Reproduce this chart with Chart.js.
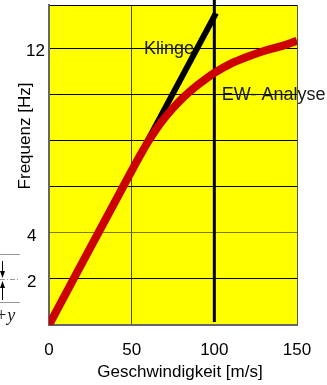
<!DOCTYPE html>
<html>
<head>
<meta charset="utf-8">
<script src="https://cdn.jsdelivr.net/npm/chart.js@4/dist/chart.umd.min.js"></script>
<style>
  html, body { margin: 0; padding: 0; background: #ffffff; }
  #wrap { width: 327px; height: 385px; position: relative; }
</style>
</head>
<body>
<div id="wrap"><canvas id="c"></canvas></div>
<script>
// ---- data ----
const ewSpeeds   = [0, 50, 55, 60, 65, 70, 75, 80, 85, 90, 95, 100, 110, 120, 130, 140, 150];
const ewFreq     = [0, 6.7, 7.35, 7.97, 8.52, 9.0, 9.42, 9.8, 10.13, 10.43, 10.7, 10.95, 11.35, 11.65, 11.9, 12.1, 12.35];
const klingeSpeeds = [0, 101];
const klingeFreq   = [0, 13.55];
const markerSpeed  = [100, 100];
const markerFreq   = [0.13, 14.13];
const xTickValues  = [0, 50, 100, 150];
const yTickLabels  = [2, 4, 12];
const seriesNames  = ['Klinge', 'EW- Analyse'];
const seriesLabelPos = [[57.5, 12], [104.5, 10]];   // [speed, freq] anchor of series name text
const xTitle = 'Geschwindigkeit [m/s]';
const yTitle = 'Frequenz [Hz]';

const toXY = (xs, ys) => xs.map((x, i) => ({ x: x, y: ys[i] }));

const bgPlugin = {
  id: 'bg',
  beforeDraw(chart) {
    const { ctx, chartArea: a } = chart;
    ctx.save();
    ctx.fillStyle = '#ffff00';
    ctx.fillRect(a.left, a.top, a.right - a.left, a.bottom - a.top);
    ctx.restore();
  },
  afterDraw(chart) {
    const { ctx, scales } = chart;
    ctx.save();
    // series names
    ctx.fillStyle = '#1a1a1a';
    ctx.font = '18px "Liberation Sans", Arial, sans-serif';
    ctx.textBaseline = 'middle';
    ctx.textAlign = 'left';
    seriesNames.forEach((n, i) => {
      ctx.fillText(n, scales.x.getPixelForValue(seriesLabelPos[i][0]), scales.y.getPixelForValue(seriesLabelPos[i][1]));
    });
    // axis titles
    ctx.fillStyle = '#000';
    ctx.font = '17px "Liberation Sans", Arial, sans-serif';
    ctx.textAlign = 'center';
    ctx.fillText(xTitle, 180, 372);
    ctx.translate(25, 136);
    ctx.rotate(-Math.PI / 2);
    ctx.fillText(yTitle, 0, 0);
    ctx.restore();

    // cropped fragment of neighbouring figure at left edge
    ctx.save();
    ctx.strokeStyle = '#9a9a9a';
    ctx.lineWidth = 1;
    ctx.beginPath();
    ctx.moveTo(0, 254.5); ctx.lineTo(20, 254.5);
    ctx.moveTo(0, 302.5); ctx.lineTo(20, 302.5);
    ctx.stroke();
    ctx.setLineDash([5, 2, 1, 2]);
    ctx.beginPath();
    ctx.moveTo(0, 279.5); ctx.lineTo(20, 279.5);
    ctx.stroke();
    ctx.setLineDash([]);
    ctx.strokeStyle = '#000';
    ctx.fillStyle = '#000';
    ctx.beginPath();
    ctx.moveTo(2.5, 261); ctx.lineTo(2.5, 272);
    ctx.moveTo(2.5, 286); ctx.lineTo(2.5, 300);
    ctx.stroke();
    ctx.beginPath();
    ctx.moveTo(0, 271); ctx.lineTo(5, 271); ctx.lineTo(2.5, 278); ctx.closePath();
    ctx.moveTo(0, 288); ctx.lineTo(5, 288); ctx.lineTo(2.5, 281); ctx.closePath();
    ctx.fill();
    ctx.fillStyle = '#222';
    ctx.font = 'italic 18px "Liberation Serif", serif';
    ctx.textAlign = 'left';
    ctx.textBaseline = 'middle';
    ctx.fillText('+y', -5, 316);
    ctx.restore();
  }
};

new Chart(document.getElementById('c'), {
  type: 'line',
  data: {
    datasets: [
      {
        label: seriesNames[1],
        data: toXY(ewSpeeds, ewFreq),
        borderColor: '#cc0000',
        borderWidth: 8,
        borderCapStyle: 'butt',
        borderJoinStyle: 'round',
        pointRadius: 0,
        cubicInterpolationMode: 'monotone',
        fill: false
      },
      {
        label: seriesNames[0],
        data: toXY(klingeSpeeds, klingeFreq),
        borderColor: '#000000',
        borderWidth: 6,
        borderCapStyle: 'butt',
        pointRadius: 0,
        fill: false
      },
      {
        label: 'marker',
        data: toXY(markerSpeed, markerFreq),
        borderColor: '#000000',
        borderWidth: 3,
        borderCapStyle: 'butt',
        pointRadius: 0,
        clip: false,
        fill: false
      }
    ]
  },
  options: {
    responsive: true,
    maintainAspectRatio: false,
    animation: false,
    events: [],
    layout: { padding: { top: 5, right: 30, left: 0, bottom: 0 } },
    plugins: { legend: { display: false }, tooltip: { enabled: false } },
    scales: {
      x: {
        type: 'linear',
        min: 0, max: 150,
        afterFit(s) { s.height = 60; s.paddingLeft = 0; s.paddingRight = 0; },
        afterBuildTicks(s) { s.ticks = xTickValues.map(v => ({ value: v })); },
        ticks: {
          color: '#000',
          font: { size: 17, family: '"Liberation Sans", Arial, sans-serif' },
          padding: 15,
          maxRotation: 0
        },
        grid: {
          drawTicks: false,
          lineWidth: 1,
          color: ctx => {
            const v = ctx.tick && ctx.tick.value;
            if (v === 50) return '#505000';
            if (v === 100 || v === 0) return 'rgba(0,0,0,0)';
            return '#555555';
          }
        },
        border: { color: '#666666', width: 2 }
      },
      y: {
        type: 'linear',
        min: 0, max: 13.9,
        afterFit(s) { s.width = 49; s.paddingTop = 0; s.paddingBottom = 0; },
        ticks: {
          stepSize: 2,
          color: '#000',
          font: { size: 17, family: '"Liberation Sans", Arial, sans-serif' },
          padding: 4,
          labelOffset: 3,
          callback: v => {
            if (!yTickLabels.includes(v)) return '';
            return v >= 10 ? String(v) : String(v) + '\u2002';
          }
        },
        grid: {
          drawTicks: false,
          lineWidth: 1,
          color: ctx => {
            const v = ctx.tick && ctx.tick.value;
            if (v === 0) return 'rgba(0,0,0,0)';
            if (v === 4) return '#7a7a00';
            return '#000000';
          }
        },
        border: { color: '#666666', width: 2 }
      }
    }
  },
  plugins: [bgPlugin]
});
</script>
</body>
</html>
